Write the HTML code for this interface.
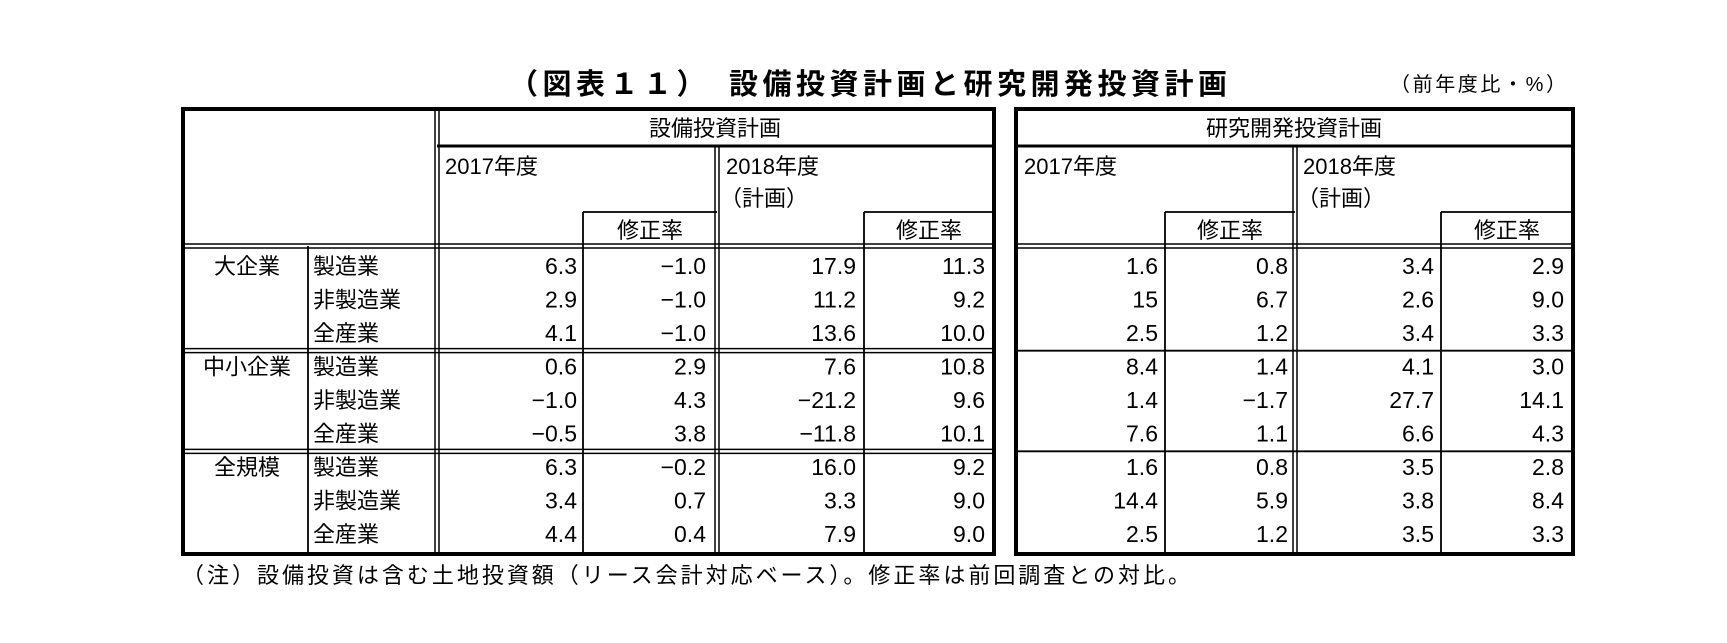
<!DOCTYPE html>
<html><head><meta charset="utf-8"><style>
html,body{margin:0;padding:0;background:#fff;}
svg{display:block;}
text{font-family:"Liberation Sans","Noto Sans CJK JP",sans-serif;fill:#000;}
.num{font-family:"Liberation Sans Narrow","Liberation Sans",sans-serif;font-size:23px;}
.jp{font-size:22px;}
</style></head><body>
<svg id="chart" width="1727" height="643" viewBox="0 0 1727 643" xmlns="http://www.w3.org/2000/svg">
<text x="509" y="94" font-size="29" font-weight="bold" textLength="718" lengthAdjust="spacing">（図表１１）　設備投資計画と研究開発投資計画</text>
<text x="1390" y="91" font-size="20" textLength="176" lengthAdjust="spacing">（前年度比・%）</text>
<g id="lines" stroke="#000" fill="none"></g>
<g id="hdr"></g>
<g id="body"></g>
<text x="182" y="583" font-size="22" textLength="1008" lengthAdjust="spacing">（注）設備投資は含む土地投資額（リース会計対応ベース）。修正率は前回調査との対比。</text>
</svg>
<script>
const groups = ["大企業","中小企業","全規模"];
const industries = ["製造業","非製造業","全産業"];
const capex2017 = ["6.3","2.9","4.1","0.6","−1.0","−0.5","6.3","3.4","4.4"];
const capex2017Rev = ["−1.0","−1.0","−1.0","2.9","4.3","3.8","−0.2","0.7","0.4"];
const capex2018 = ["17.9","11.2","13.6","7.6","−21.2","−11.8","16.0","3.3","7.9"];
const capex2018Rev = ["11.3","9.2","10.0","10.8","9.6","10.1","9.2","9.0","9.0"];
const rd2017 = ["1.6","15","2.5","8.4","1.4","7.6","1.6","14.4","2.5"];
const rd2017Rev = ["0.8","6.7","1.2","1.4","−1.7","1.1","0.8","5.9","1.2"];
const rd2018 = ["3.4","2.6","3.4","4.1","27.7","6.6","3.5","3.8","3.5"];
const rd2018Rev = ["2.9","9.0","3.3","3.0","14.1","4.3","2.8","8.4","3.3"];

const NS="http://www.w3.org/2000/svg";
const L=document.getElementById('lines'),H=document.getElementById('hdr'),B=document.getElementById('body');
function ln(x1,y1,x2,y2,w){const e=document.createElementNS(NS,'line');e.setAttribute('x1',x1);e.setAttribute('y1',y1);e.setAttribute('x2',x2);e.setAttribute('y2',y2);e.setAttribute('stroke-width',w);


L.appendChild(e);}
function rect(x,y,w,h,sw){const e=document.createElementNS(NS,'rect');e.setAttribute('x',x);e.setAttribute('y',y);e.setAttribute('width',w);e.setAttribute('height',h);e.setAttribute('stroke-width',sw);


L.appendChild(e);}
function tx(p,x,y,s,cls,anchor,name){const e=document.createElementNS(NS,'text');e.setAttribute('x',x);e.setAttribute('y',y);if(cls)e.setAttribute('class',cls);if(anchor)e.setAttribute('text-anchor',anchor);e.textContent=s;


p.appendChild(e);}
function dbl(x,y1,y2){ln(x-2,y1,x-2,y2,1.5);ln(x+2,y1,x+2,y2,1.5);}
function dblh(x1,x2,y){ln(x1,y-2,x2,y-2,1.5);ln(x1,y+2,x2,y+2,1.5);}

const tTop=109,tBot=554,h1=146,rv=212,hb=246,rowH=(tBot-hb-6)/9,r0=hb+3;
// left table
rect(183,tTop,994-183,tBot-tTop,4);
dbl(437,tTop,tBot);dbl(717,h1,tBot);
ln(437,h1,994,h1,3);
ln(308,hb,308,tBot,1.8);
ln(583,rv,583,tBot,1.8);ln(864,rv,864,tBot,1.8);
ln(583,rv,717,rv,1.8);ln(864,rv,994,rv,1.8);
dblh(183,994,hb);
dblh(183,994,r0+3*rowH+1);dblh(183,994,r0+6*rowH+1);
// right table
rect(1016,tTop,1573-1016,tBot-tTop,4);
dbl(1295,h1,tBot);
ln(1016,h1,1573,h1,3);
ln(1165,rv,1165,tBot,1.8);ln(1441,rv,1441,tBot,1.8);
ln(1165,rv,1295,rv,1.8);ln(1441,rv,1573,rv,1.8);
dblh(1016,1573,hb);
ln(1016,r0+3*rowH+1,1573,r0+3*rowH+1,1.8);ln(1016,r0+6*rowH+1,1573,r0+6*rowH+1,1.8);

// header
tx(H,715,136,'設備投資計画','jp','middle','capex-header');
tx(H,1294,136,'研究開発投資計画','jp','middle','rd-header');
[[445,'2017年度'],[726,'2018年度'],[1024,'2017年度'],[1303,'2018年度']].forEach(a=>tx(H,a[0],174,a[1],'jp',null,'year-header'));
[[726,'（計画）'],[1303,'（計画）']].forEach(a=>tx(H,a[0]-6,206,a[1],'jp',null,'plan-label'));
[650,929,1230,1507].forEach(x=>tx(H,x,238,'修正率','jp','middle','revision-header'));

// body
const cols=[[capex2017,577],[capex2017Rev,706],[capex2018,856],[capex2018Rev,985],[rd2017,1158],[rd2017Rev,1288],[rd2018,1434],[rd2018Rev,1564]];
for(let i=0;i<9;i++){
  const cy=r0+rowH*i+rowH/2+8;
  if(i%3===0) tx(B,247,cy,groups[i/3],'jp','middle','group-label');
  tx(B,313,cy,industries[i%3],'jp',null,'industry-label');
  cols.forEach(c=>tx(B,c[1],cy,c[0][i],'num','end','value-cell'));
}
</script>
</body></html>
